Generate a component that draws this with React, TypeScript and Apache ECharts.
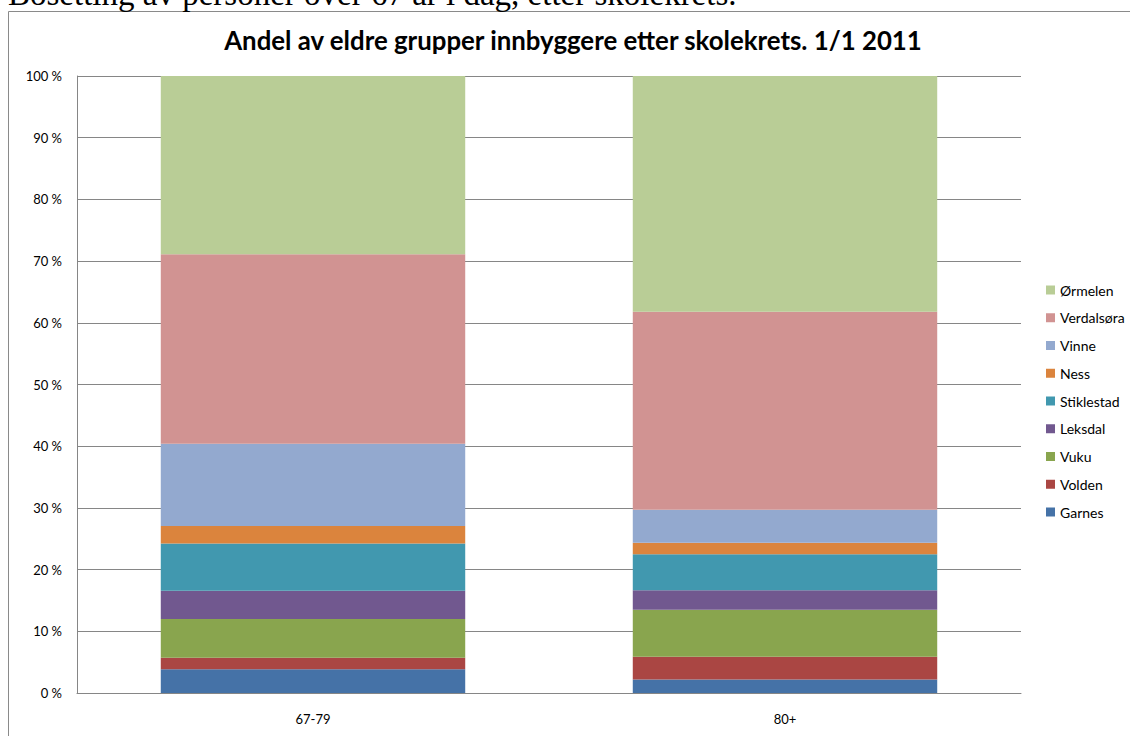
import React, { useEffect, useRef } from "react";
import * as echarts from "echarts";

const categories = ["67-79", "80+"];
const seriesNames = ["Garnes", "Volden", "Vuku", "Leksdal", "Stiklestad", "Ness", "Vinne", "Verdalsøra", "Ørmelen"];
const garnes = [3.84, 2.2];
const volden = [1.88, 3.68];
const vuku = [6.27, 7.62];
const leksdal = [4.6, 3.14];
const stiklestad = [7.62, 5.84];
const ness = [2.87, 1.88];
const vinne = [13.33, 5.34];
const verdalsora = [30.7, 32.1];
const ormelen = [28.89, 38.2];
const colors = ["#4572A7", "#AA4643", "#89A54E", "#71588F", "#4198AF", "#DB843D", "#93A9CF", "#D19392", "#B9CD96"];
const title = "Andel av eldre grupper innbyggere etter skolekrets. 1/1 2011";
const heading = "Bosetting av personer over 67 år i dag, etter skolekrets.";

export default function App() {
  const ref = useRef<HTMLDivElement>(null);
  useEffect(() => {
    if (!ref.current) return;
    const chart = echarts.init(ref.current, null, { renderer: "svg" });
    const values = [garnes, volden, vuku, leksdal, stiklestad, ness, vinne, verdalsora, ormelen];
    chart.setOption({
      animation: false,
      backgroundColor: "#ffffff",
      textStyle: { fontFamily: "Lato" },
      graphic: [
        {
          type: "rect",
          shape: { x: 8.5, y: 11.5, width: 1200, height: 900 },
          style: { fill: "none", stroke: "#8a8a8a", lineWidth: 1 },
          silent: true,
        },
        {
          type: "text",
          x: 8,
          y: -6,
          style: {
            text: heading,
            font: "33px 'Liberation Serif'",
            fill: "#000",
            textAlign: "left",
            textVerticalAlign: "middle",
          },
        },
        {
          type: "text",
          x: 573,
          y: 40,
          style: {
            text: title,
            font: "bold 25.8px Lato",
            fill: "#000",
            textAlign: "center",
            textVerticalAlign: "middle",
          },
        },
      ],
      grid: { left: 77, right: 109, top: 76, bottom: 43, containLabel: false },
      legend: {
        orient: "vertical",
        left: 1046,
        top: 283,
        padding: 0,
        itemWidth: 9,
        itemHeight: 9,
        itemGap: 13.75,
        icon: "rect",
        data: seriesNames.slice().reverse(),
        textStyle: { fontFamily: "Lato", fontSize: 14, color: "#000", lineHeight: 14 },
      },
      xAxis: {
        type: "category",
        data: categories,
        axisLine: { lineStyle: { color: "#868686", width: 1 } },
        axisTick: { show: false },
        axisLabel: { color: "#000", fontSize: 13, margin: 19, fontFamily: "Lato" },
      },
      yAxis: {
        type: "value",
        min: 0,
        max: 100,
        interval: 10,
        axisLine: { show: true, lineStyle: { color: "#868686", width: 1 } },
        axisTick: { show: false },
        splitLine: { lineStyle: { color: "#868686", width: 1 } },
        axisLabel: { color: "#000", fontSize: 13, margin: 15, fontFamily: "Lato", formatter: (v: number) => v + " %" },
      },
      series: seriesNames.map((name, i) => ({
        name,
        type: "bar",
        stack: "total",
        barWidth: "64.5%",
        data: values[i],
        itemStyle: { color: colors[i] },
      })),
    });
    return () => chart.dispose();
  }, []);
  return (
    <div style={{ position: "fixed", left: 0, top: 0, width: 1130, height: 736, background: "#fff" }}>
      <div ref={ref} style={{ width: 1130, height: 736 }} />
    </div>
  );
}
